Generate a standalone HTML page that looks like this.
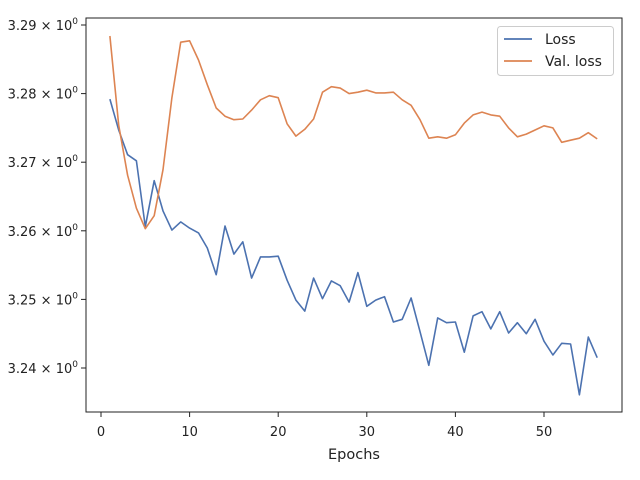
<!DOCTYPE html>
<html><head><meta charset="utf-8"><style>
body{margin:0;background:#fff;}
svg{display:block;font-family:"DejaVu Sans","Liberation Sans",sans-serif;}
</style></head><body>
<svg id="chart" width="640" height="480" viewBox="0 0 640 480" xmlns="http://www.w3.org/2000/svg">
<rect width="640" height="480" fill="#fff"/>
<g id="grid"></g>
<g id="series"></g>
<rect x="86" y="18" width="536" height="394" fill="none" stroke="#222" stroke-width="1"/>
<g id="xticks"></g>
<g id="yticks"></g>
<text x="354" y="459" font-size="14.5" text-anchor="middle" fill="#222">Epochs</text>
<g>
<rect x="497.5" y="26.5" width="116" height="49" rx="3" fill="#fff" stroke="#ccc"/>
<line x1="504" y1="39" x2="532" y2="39" stroke="#4c72b0" stroke-width="1.8"/>
<text x="545" y="44" font-size="14" fill="#222">Loss</text>
<line x1="504" y1="61" x2="532" y2="61" stroke="#dd8452" stroke-width="1.8"/>
<text x="545" y="66" font-size="14" fill="#222">Val. loss</text>
</g>
</svg>
<script>
const loss=[3.2792,3.2747,3.2711,3.2702,3.2606,3.2673,3.2629,3.2601,3.2613,3.2604,3.2597,3.2575,3.2536,3.2607,3.2566,3.2584,3.2531,3.2562,3.2562,3.2563,3.2528,3.2499,3.2483,3.2531,3.2501,3.2527,3.2520,3.2496,3.2539,3.2490,3.2499,3.2504,3.2467,3.2471,3.2502,3.2453,3.2404,3.2473,3.2466,3.2467,3.2423,3.2476,3.2482,3.2457,3.2482,3.2451,3.2466,3.2450,3.2471,3.2439,3.2419,3.2436,3.2435,3.2361,3.2445,3.2415];
const valLoss=[3.2884,3.2754,3.2681,3.2633,3.2603,3.2622,3.2689,3.2794,3.2875,3.2877,3.2849,3.2813,3.2779,3.2767,3.2762,3.2763,3.2776,3.2791,3.2797,3.2794,3.2756,3.2738,3.2748,3.2763,3.2802,3.2810,3.2808,3.2800,3.2802,3.2805,3.2801,3.2801,3.2802,3.2791,3.2783,3.2762,3.2735,3.2737,3.2735,3.2740,3.2757,3.2769,3.2773,3.2769,3.2767,3.2750,3.2737,3.2741,3.2747,3.2753,3.2750,3.2729,3.2732,3.2735,3.2743,3.2734];
const xTicks=[0,10,20,30,40,50];
const yTicks=[3.24,3.25,3.26,3.27,3.28,3.29];
const yTickLabels=["3.24","3.25","3.26","3.27","3.28","3.29"];
const NS="http://www.w3.org/2000/svg";
const xs=v=>101+(v-0)*8.86;
const ys=v=>368-(v-3.24)*6860;
const series=document.getElementById('series');
function addLine(data,color,name){
  const p=document.createElementNS(NS,'polyline');
  p.setAttribute('points',data.map((v,i)=>xs(i+1).toFixed(1)+','+ys(v).toFixed(1)).join(' '));
  p.setAttribute('fill','none');p.setAttribute('stroke',color);p.setAttribute('stroke-width','1.6');
  p.setAttribute('stroke-linejoin','round');
  
  
  series.appendChild(p);
}
addLine(loss,'#4c72b0','loss-line');
addLine(valLoss,'#dd8452','val-loss-line');
const xt=document.getElementById('xticks');
xTicks.forEach(t=>{
  const l=document.createElementNS(NS,'line');
  l.setAttribute('x1',xs(t));l.setAttribute('x2',xs(t));l.setAttribute('y1',412);l.setAttribute('y2',417);l.setAttribute('stroke','#222');
  
  
  xt.appendChild(l);
  const s=document.createElementNS(NS,'text');
  s.setAttribute('x',xs(t));s.setAttribute('y',436);s.setAttribute('font-size','13');s.setAttribute('text-anchor','middle');s.setAttribute('fill','#222');
  s.textContent=t;
  
  
  xt.appendChild(s);
});
const yt=document.getElementById('yticks');
yTicks.forEach((t,i)=>{
  const l=document.createElementNS(NS,'line');
  l.setAttribute('x1',81);l.setAttribute('x2',86);l.setAttribute('y1',ys(t));l.setAttribute('y2',ys(t));l.setAttribute('stroke','#222');
  
  
  yt.appendChild(l);
  const s=document.createElementNS(NS,'text');
  s.setAttribute('x',78);s.setAttribute('y',ys(t)+5);s.setAttribute('font-size','13');s.setAttribute('text-anchor','end');s.setAttribute('fill','#222');
  s.innerHTML=yTickLabels[i]+' × 10<tspan font-size="9" dy="-6">0</tspan>';
  
  
  yt.appendChild(s);
});
</script>
</body></html>
